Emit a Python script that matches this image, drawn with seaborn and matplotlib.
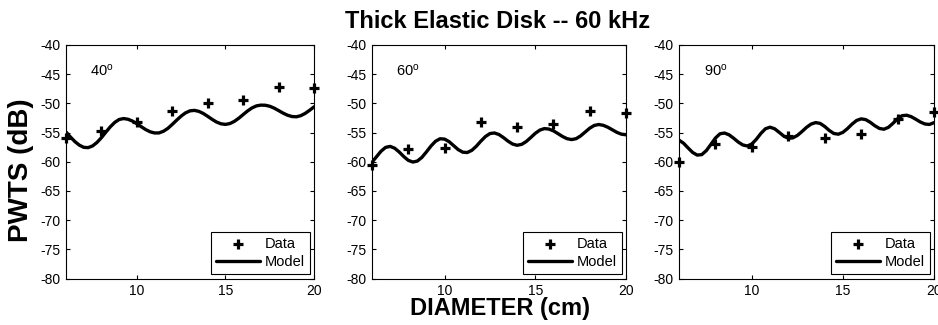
import numpy as np
import matplotlib
matplotlib.use("Agg")
import matplotlib.pyplot as plt
import seaborn as sns

# Measured diameters (cm) and PWTS (dB) at three incidence angles
diameter_data = [6, 8, 10, 12, 14, 16, 18, 20]
pwts_data_40 = [-56.0, -54.7, -53.2, -51.3, -50.0, -49.4, -47.2, -47.3]
pwts_data_60 = [-60.5, -57.8, -57.6, -53.2, -54.1, -53.5, -51.3, -51.6]
pwts_data_90 = [-60.0, -57.0, -57.4, -55.6, -55.9, -55.2, -52.6, -51.5]

# Model curves sampled every 0.25 cm from 6 to 20 cm
diameter_model = np.linspace(6, 20, 57)
pwts_model_40 = [
    -54.90, -55.76, -56.54, -57.15, -57.53, -57.58, -57.29, -56.69,
    -55.87, -54.93, -54.02, -53.26, -52.76, -52.60, -52.72, -53.03,
    -53.48, -54.00, -54.49, -54.87, -55.07, -55.06, -54.78, -54.28,
    -53.60, -52.87, -52.18, -51.62, -51.28, -51.20, -51.37, -51.73,
    -52.22, -52.74, -53.20, -53.50, -53.60, -53.46, -53.09, -52.55,
    -51.92, -51.30, -50.78, -50.43, -50.30, -50.32, -50.49, -50.81,
    -51.23, -51.66, -52.02, -52.25, -52.30, -52.11, -51.72, -51.19,
    -50.60,
]
pwts_model_60 = [
    -60.08, -59.13, -58.19, -57.54, -57.37, -57.68, -58.33, -59.11,
    -59.76, -60.05, -59.88, -59.25, -58.31, -57.31, -56.49, -56.06,
    -56.12, -56.56, -57.24, -57.92, -58.36, -58.42, -58.05, -57.34,
    -56.47, -55.69, -55.17, -55.07, -55.34, -55.87, -56.48, -56.97,
    -57.18, -57.02, -56.54, -55.85, -55.13, -54.58, -54.32, -54.40,
    -54.71, -55.18, -55.67, -56.05, -56.20, -56.05, -55.57, -54.91,
    -54.25, -53.78, -53.62, -53.76, -54.09, -54.53, -54.97, -55.28,
    -55.38,
]
pwts_model_90 = [
    -56.29, -56.83, -57.64, -58.41, -58.86, -58.78, -58.09, -57.03,
    -55.94, -55.21, -55.08, -55.39, -55.97, -56.62, -57.12, -57.30,
    -56.96, -56.13, -55.13, -54.34, -54.08, -54.35, -54.96, -55.60,
    -55.98, -55.91, -55.49, -54.83, -54.11, -53.55, -53.29, -53.43,
    -53.96, -54.64, -55.16, -55.28, -54.96, -54.32, -53.55, -52.93,
    -52.65, -52.78, -53.24, -53.83, -54.29, -54.43, -54.10, -53.41,
    -52.64, -52.11, -52.03, -52.28, -52.72, -53.19, -53.53, -53.61,
    -53.30,
]

angle_labels = ["40", "60", "90"]
x_ticks = [10, 15, 20]
y_ticks = [-80, -75, -70, -65, -60, -55, -50, -45, -40]

sns.set_theme(style="ticks")
plt.rcParams.update({
    "font.family": ["Liberation Sans", "DejaVu Sans"],
    "mathtext.fontset": "custom",
    "mathtext.rm": "Liberation Sans",
    "mathtext.it": "Liberation Sans:italic",
    "axes.unicode_minus": False,
    "axes.edgecolor": "black",
    "axes.linewidth": 0.8,
    "text.color": "black",
    "xtick.color": "black",
    "ytick.color": "black",
    "axes.labelcolor": "black",
})

W, H = 938, 325
fig = plt.figure(figsize=(W / 100, H / 100), dpi=100)

panel_edges = [(66, 314), (372, 626), (679, 934)]
top_px, bottom_px = 45, 278.5

series = [
    (pwts_data_40, pwts_model_40),
    (pwts_data_60, pwts_model_60),
    (pwts_data_90, pwts_model_90),
]

for (left, right), (data_vals, model_vals), angle in zip(panel_edges, series, angle_labels):
    ax = fig.add_axes([left / W, 1 - bottom_px / H, (right - left) / W, (bottom_px - top_px) / H])
    sns.lineplot(x=diameter_model, y=model_vals, ax=ax, color="black", lw=2.4,
                 label="Model", sort=False, estimator=None)
    sns.scatterplot(x=diameter_data, y=data_vals, ax=ax, marker="+", s=60,
                    linewidth=2.3, color="black", label="Data", zorder=3, clip_on=False)
    ax.set_xlim(6, 20)
    ax.set_ylim(-80, -40)
    ax.set_xticks(x_ticks)
    ax.set_yticks(y_ticks)
    ax.set_xlabel("")
    ax.set_ylabel("")
    for s in ax.spines.values():
        s.set_visible(True)
        s.set_linewidth(0.8)
        s.set_color("black")
    ax.tick_params(direction="in", length=3, width=0.8, top=True, right=True,
                   labelsize=10, pad=4)
    ax.text(7.35, -44.3, angle + r"$^{\rm o}$", fontsize=10.5, va="center", ha="left")

    handles, labels = ax.get_legend_handles_labels()
    lookup = dict(zip(labels, handles))
    leg = ax.legend([lookup["Data"], lookup["Model"]], ["Data", "Model"],
                    loc="lower right", frameon=True, fancybox=False,
                    edgecolor="black", framealpha=1, fontsize=10.5,
                    handlelength=3.0, borderaxespad=0.3, borderpad=0.35,
                    labelspacing=0.3, handletextpad=0.3)
    leg.get_frame().set_linewidth(0.8)

fig.text(498 / W, 1 - 21 / H, "Thick Elastic Disk -- 60 kHz", ha="center", va="center",
         fontsize=17, fontweight="bold")
fig.text(500 / W, 1 - 308 / H, "DIAMETER (cm)", ha="center", va="center",
         fontsize=17, fontweight="bold")
fig.text(21 / W, 1 - 170 / H, "PWTS (dB)", ha="center", va="center", rotation=90,
         fontsize=20, fontweight="bold")

fig.savefig("out.png", dpi=100)
